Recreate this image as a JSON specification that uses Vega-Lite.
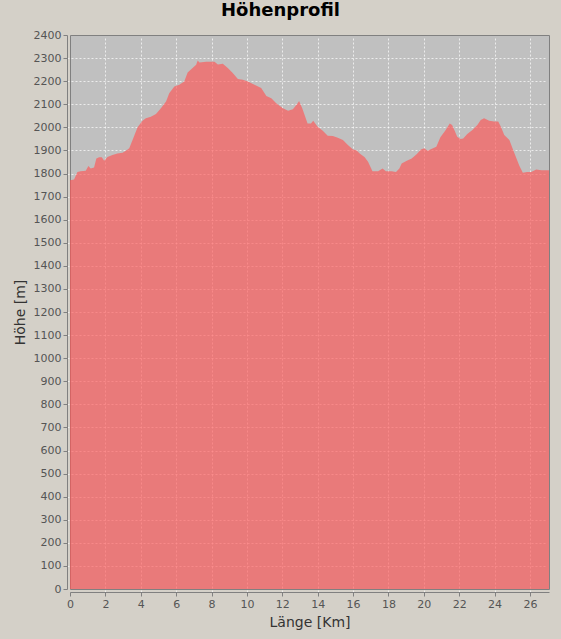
{
  "$schema": "https://vega.github.io/schema/vega-lite/v6.json",
  "width": 479,
  "height": 554,
  "autosize": "none",
  "padding": {"left": 70, "top": 35, "right": 12, "bottom": 50},
  "background": "#d4d0c8",
  "title": {"text": "Höhenprofil", "font": "DejaVu Sans", "fontSize": 18, "fontWeight": "bold", "color": "#000000", "anchor": "middle", "dx": -29, "offset": 9},
  "config": {
    "view": {"fill": "#c0c0c0", "stroke": "#808080", "strokeWidth": 1},
    "axis": {
      "labelFont": "DejaVu Sans", "labelFontSize": 11, "labelColor": "#555555",
      "titleFont": "DejaVu Sans", "titleFontSize": 14, "titleFontWeight": "normal", "titleColor": "#333333",
      "domainColor": "#808080", "tickColor": "#808080", "tickSize": 4,
      "gridColor": "#ffffff", "gridDash": [2, 2], "offset": 3,
      "labelOverlap": false, "labelFlush": false, "format": "d"
    }
  },
  "data": {"values": [
    {"km": 0, "h": 1771}, {"km": 0.23, "h": 1774}, {"km": 0.42, "h": 1807}, {"km": 0.6, "h": 1810},
    {"km": 0.89, "h": 1812}, {"km": 1.04, "h": 1832}, {"km": 1.17, "h": 1822}, {"km": 1.36, "h": 1826},
    {"km": 1.49, "h": 1865}, {"km": 1.64, "h": 1870}, {"km": 1.8, "h": 1870}, {"km": 1.93, "h": 1855},
    {"km": 2.12, "h": 1872}, {"km": 2.4, "h": 1880}, {"km": 2.68, "h": 1887}, {"km": 2.97, "h": 1890},
    {"km": 3.16, "h": 1899}, {"km": 3.35, "h": 1909}, {"km": 3.57, "h": 1952}, {"km": 3.82, "h": 2000},
    {"km": 4.1, "h": 2029}, {"km": 4.29, "h": 2039}, {"km": 4.57, "h": 2046}, {"km": 4.86, "h": 2058},
    {"km": 5.14, "h": 2083}, {"km": 5.43, "h": 2112}, {"km": 5.61, "h": 2148}, {"km": 5.9, "h": 2177},
    {"km": 6.18, "h": 2184}, {"km": 6.46, "h": 2199}, {"km": 6.65, "h": 2238}, {"km": 6.93, "h": 2257},
    {"km": 7.13, "h": 2271}, {"km": 7.22, "h": 2290}, {"km": 7.32, "h": 2281}, {"km": 7.69, "h": 2284},
    {"km": 8.17, "h": 2284}, {"km": 8.36, "h": 2272}, {"km": 8.64, "h": 2275}, {"km": 8.92, "h": 2257},
    {"km": 9.2, "h": 2235}, {"km": 9.49, "h": 2209}, {"km": 9.77, "h": 2206}, {"km": 10.06, "h": 2199},
    {"km": 10.43, "h": 2184}, {"km": 10.81, "h": 2170}, {"km": 11.1, "h": 2136}, {"km": 11.38, "h": 2126},
    {"km": 11.66, "h": 2104}, {"km": 12.04, "h": 2083}, {"km": 12.33, "h": 2072}, {"km": 12.6, "h": 2078},
    {"km": 12.84, "h": 2101}, {"km": 12.95, "h": 2114}, {"km": 13.14, "h": 2080}, {"km": 13.43, "h": 2017},
    {"km": 13.62, "h": 2017}, {"km": 13.75, "h": 2028}, {"km": 14, "h": 2003}, {"km": 14.29, "h": 1985},
    {"km": 14.57, "h": 1964}, {"km": 14.86, "h": 1962}, {"km": 15.14, "h": 1955}, {"km": 15.43, "h": 1945},
    {"km": 15.71, "h": 1923}, {"km": 16, "h": 1904}, {"km": 16.19, "h": 1901}, {"km": 16.38, "h": 1887},
    {"km": 16.66, "h": 1870}, {"km": 16.85, "h": 1851}, {"km": 17.1, "h": 1810}, {"km": 17.42, "h": 1810},
    {"km": 17.67, "h": 1822}, {"km": 17.86, "h": 1810}, {"km": 18.18, "h": 1810}, {"km": 18.43, "h": 1807},
    {"km": 18.62, "h": 1822}, {"km": 18.75, "h": 1843}, {"km": 19.04, "h": 1855}, {"km": 19.32, "h": 1865},
    {"km": 19.61, "h": 1884}, {"km": 19.84, "h": 1904}, {"km": 20.03, "h": 1909}, {"km": 20.22, "h": 1899},
    {"km": 20.46, "h": 1907}, {"km": 20.71, "h": 1916}, {"km": 20.94, "h": 1957}, {"km": 21.22, "h": 1986},
    {"km": 21.47, "h": 2017}, {"km": 21.6, "h": 2010}, {"km": 21.73, "h": 1988}, {"km": 21.89, "h": 1959},
    {"km": 22.08, "h": 1949}, {"km": 22.23, "h": 1952}, {"km": 22.46, "h": 1971}, {"km": 22.75, "h": 1988},
    {"km": 23.03, "h": 2010}, {"km": 23.22, "h": 2032}, {"km": 23.41, "h": 2039}, {"km": 23.7, "h": 2029},
    {"km": 23.98, "h": 2025}, {"km": 24.21, "h": 2025}, {"km": 24.36, "h": 2003}, {"km": 24.55, "h": 1967},
    {"km": 24.84, "h": 1945}, {"km": 25.13, "h": 1887}, {"km": 25.41, "h": 1832}, {"km": 25.6, "h": 1803},
    {"km": 25.84, "h": 1807}, {"km": 26.07, "h": 1807}, {"km": 26.36, "h": 1817}, {"km": 26.65, "h": 1814},
    {"km": 27.08, "h": 1814}
  ]},
  "mark": {"type": "area", "color": "#ff5555", "opacity": 0.65, "interpolate": "linear"},
  "encoding": {
    "x": {"field": "km", "type": "quantitative", "title": "Länge [Km]",
          "scale": {"domain": [0, 27.08], "nice": false, "zero": true},
          "axis": {"values": [0, 2, 4, 6, 8, 10, 12, 14, 16, 18, 20, 22, 24, 26], "titlePadding": 6,
                   "gridOpacity": {"condition": {"test": "datum.value == 0", "value": 0}, "value": 0.7}}},
    "y": {"field": "h", "type": "quantitative", "title": "Höhe [m]",
          "scale": {"domain": [0, 2400], "nice": false},
          "axis": {"values": [0,100,200,300,400,500,600,700,800,900,1000,1100,1200,1300,1400,1500,1600,1700,1800,1900,2000,2100,2200,2300,2400], "titlePadding": 6,
                   "gridOpacity": {"condition": {"test": "datum.value == 0 || datum.value == 2400", "value": 0}, "value": 0.7}}}
  }
}
